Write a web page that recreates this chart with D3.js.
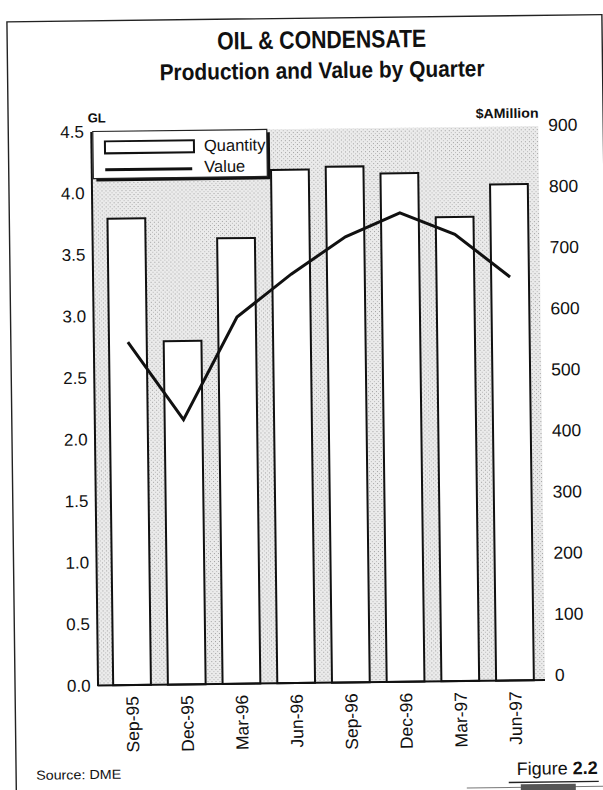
<!DOCTYPE html>
<html>
<head>
<meta charset="utf-8">
<script src="https://cdn.jsdelivr.net/npm/d3@7"></script>
<style>
  html, body { margin: 0; padding: 0; background: #fff; }
  svg { display: block; }
  text { font-family: "Liberation Sans", Arial, Helvetica, sans-serif; fill: #111; }
</style>
</head>
<body>
<div id="chart"></div>
<script>
// ---- data ----
const categories = ["Sep-95", "Dec-95", "Mar-96", "Jun-96", "Sep-96", "Dec-96", "Mar-97", "Jun-97"];
const quantityGL = [3.79, 2.79, 3.62, 4.17, 4.19, 4.13, 3.77, 4.03];
const valueAM = [553, 425, 592, 661, 721, 759, 723, 652];
const leftTicks = [0, 0.5, 1.0, 1.5, 2.0, 2.5, 3.0, 3.5, 4.0, 4.5];
const rightTicks = [0, 100, 200, 300, 400, 500, 600, 700, 800, 900];
const titleLines = ["OIL & CONDENSATE", "Production and Value by Quarter"];
const legendLabels = ["Quantity", "Value"];

// ---- layout ----
const W = 603, H = 790;
const plot = { left: 94, right: 541.5, top: 129, bottom: 683 };

const svg = d3.select("#chart").append("svg").attr("width", W).attr("height", H);
const g = svg.append("g").attr("transform", "rotate(-0.7, 301, 395)");

// page frame
g.append("rect").attr("x", 11.5).attr("y", 18.3).attr("width", 595).attr("height", 820)
  .attr("fill", "none").attr("stroke", "#222").attr("stroke-width", 1.4);

// titles
g.append("text").attr("x", 326).attr("y", 48.5).attr("text-anchor", "middle")
  .attr("font-size", 25).attr("font-weight", "bold")
  .attr("textLength", 209).attr("lengthAdjust", "spacingAndGlyphs").text(titleLines[0]);
g.append("text").attr("x", 326).attr("y", 78.5).attr("text-anchor", "middle")
  .attr("font-size", 23).attr("font-weight", "bold")
  .attr("textLength", 325).attr("lengthAdjust", "spacingAndGlyphs").text(titleLines[1]);

// scales
const x = d3.scaleBand().domain(categories).range([98, 542]).paddingInner(0.31).paddingOuter(0.213);
const yL = d3.scaleLinear().domain([0, 4.5]).range([plot.bottom, plot.top]);
const yR = d3.scaleLinear().domain([0, 900]).range([678, 128]);

// plot background (stipple)
const defs = svg.append("defs");
const pat = defs.append("pattern").attr("id", "stip").attr("patternUnits", "userSpaceOnUse")
  .attr("width", 4).attr("height", 4);
pat.append("rect").attr("width", 4).attr("height", 4).attr("fill", "#ebebeb");
pat.append("rect").attr("x", 0).attr("y", 0).attr("width", 1).attr("height", 1).attr("fill", "#a0a0a0");
pat.append("rect").attr("x", 2).attr("y", 2).attr("width", 1).attr("height", 1).attr("fill", "#b8b8b8");

g.append("rect").attr("x", plot.left).attr("y", plot.top)
  .attr("width", plot.right - plot.left).attr("height", plot.bottom - plot.top)
  .attr("fill", "url(#stip)");

// bars
g.append("g").selectAll("rect").data(categories).join("rect")
  .attr("x", d => x(d))
  .attr("y", (d, i) => yL(quantityGL[i]))
  .attr("width", x.bandwidth())
  .attr("height", (d, i) => yL(0) - yL(quantityGL[i]))
  .attr("fill", "#fff").attr("stroke", "#111").attr("stroke-width", 2);

// baseline
g.append("line").attr("x1", plot.left).attr("x2", plot.right)
  .attr("y1", plot.bottom).attr("y2", plot.bottom)
  .attr("stroke", "#111").attr("stroke-width", 2);

// left axis
const axL = g.append("g").attr("transform", `translate(${plot.left},0)`)
  .call(d3.axisLeft(yL).tickValues(leftTicks).tickFormat(d3.format(".1f"))
    .tickSize(0).tickSizeOuter(0).tickPadding(7));
axL.select(".domain").attr("stroke", "#111").attr("stroke-width", 2);
axL.selectAll("text").attr("font-size", 17).attr("font-family", "Liberation Sans, Arial, sans-serif").attr("fill", "#111");

// right axis (labels only)
const axR = g.append("g").attr("transform", `translate(${plot.right},0)`)
  .call(d3.axisRight(yR).tickValues(rightTicks).tickFormat(d3.format("d"))
    .tickSize(0).tickSizeOuter(0).tickPadding(10));
axR.select(".domain").remove();
axR.selectAll("text").attr("font-size", 17.5).attr("font-family", "Liberation Sans, Arial, sans-serif").attr("fill", "#111");

// axis unit labels
g.append("text").attr("x", 91).attr("y", 120).attr("font-size", 13).attr("font-weight", "bold").text("GL");
g.append("text").attr("x", 542).attr("y", 120.5).attr("text-anchor", "end")
  .attr("font-size", 13.5).attr("font-weight", "bold")
  .attr("textLength", 63).attr("lengthAdjust", "spacingAndGlyphs").text("$AMillion");

// x labels
g.append("g").selectAll("text").data(categories).join("text")
  .attr("transform", d => `translate(${x(d) + x.bandwidth() / 2},694) rotate(-90)`)
  .attr("text-anchor", "end").attr("dy", "0.36em")
  .attr("font-size", 17.5).text(d => d);

// value line
const line = d3.line()
  .x((d, i) => x(categories[i]) + x.bandwidth() / 2)
  .y(d => yR(d));
g.append("path").datum(valueAM).attr("d", line)
  .attr("fill", "none").attr("stroke", "#111").attr("stroke-width", 3).attr("stroke-linejoin", "miter");

// legend
const lg = g.append("g");
lg.append("rect").attr("x", 99).attr("y", 132).attr("width", 174).attr("height", 47).attr("fill", "#111");
lg.append("rect").attr("x", 96).attr("y", 129).attr("width", 174).attr("height", 47)
  .attr("fill", "#fff").attr("stroke", "#222").attr("stroke-width", 1.2);
lg.append("rect").attr("x", 108).attr("y", 139).attr("width", 89).attr("height", 12)
  .attr("fill", "#fff").attr("stroke", "#111").attr("stroke-width", 2);
lg.append("line").attr("x1", 108).attr("x2", 195).attr("y1", 167.5).attr("y2", 167.5)
  .attr("stroke", "#111").attr("stroke-width", 3);
lg.append("text").attr("x", 207).attr("y", 150).attr("font-size", 16.5).text(legendLabels[0]);
lg.append("text").attr("x", 207).attr("y", 171).attr("font-size", 16.5).text(legendLabels[1]);

// footer
g.append("text").attr("x", 31.5).attr("y", 776.5).attr("font-size", 13)
  .attr("textLength", 85).attr("lengthAdjust", "spacingAndGlyphs").text("Source: DME");
const fig = g.append("text").attr("x", 512).attr("y", 777.5).attr("font-size", 18);
fig.append("tspan").text("Figure ");
fig.append("tspan").attr("font-weight", "bold").text("2.2");
g.append("line").attr("x1", 504).attr("x2", 594).attr("y1", 785).attr("y2", 785)
  .attr("stroke", "#222").attr("stroke-width", 1.4);
g.append("line").attr("x1", 462).attr("x2", 600).attr("y1", 790).attr("y2", 790)
  .attr("stroke", "#777").attr("stroke-width", 1);
g.append("rect").attr("x", 516).attr("y", 787).attr("width", 55).attr("height", 8).attr("fill", "#555");
</script>
</body>
</html>
